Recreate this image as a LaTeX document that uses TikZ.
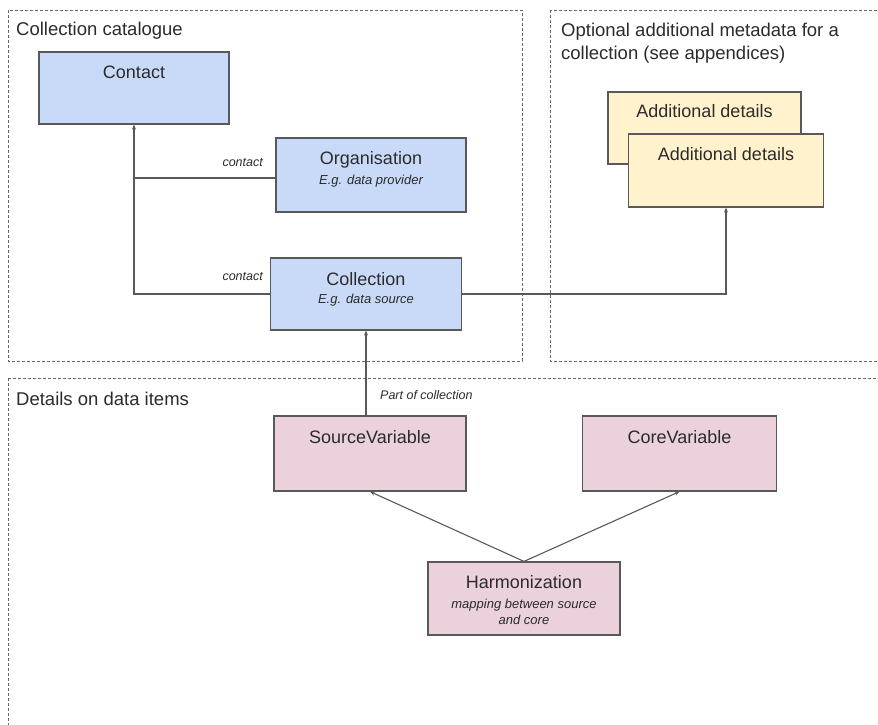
\documentclass[tikz,border=0pt]{standalone}
\usepackage{fontspec}
\setmainfont{Liberation Sans}
\usetikzlibrary{arrows.meta}
\definecolor{bluefill}{HTML}{C9DAF8}
\definecolor{yellowfill}{HTML}{FFF2CC}
\definecolor{pinkfill}{HTML}{EAD1DC}
\definecolor{edge}{HTML}{595959}
\definecolor{txt}{HTML}{2B2B2B}
\definecolor{framec}{HTML}{666666}
\tikzset{
  box/.style={draw=edge, line width=1.2pt, rectangle, inner sep=0pt},
  bluebox/.style={box, fill=bluefill},
  yellowbox/.style={box, fill=yellowfill},
  pinkbox/.style={box, fill=pinkfill},
  ttl/.style={text=txt, font=\fontsize{18}{20}\selectfont, inner sep=0pt},
  sub/.style={text=txt, font=\fontsize{13}{16}\selectfont\itshape, inner sep=0pt, align=center},
  lbl/.style={text=txt, font=\fontsize{12.5}{14}\selectfont\itshape, inner sep=0pt},
  framelbl/.style={text=txt, font=\fontsize{18.5}{23}\selectfont, inner sep=0pt, align=left},
  frame/.style={draw=framec, line width=0.9pt, dash pattern=on 3pt off 2pt},
  conn/.style={draw=edge, line width=1.1pt},
  arr/.style={conn, -{Stealth[length=5pt,width=4pt]}}
}
\begin{document}
\begin{tikzpicture}[x=1pt,y=-1pt]
\useasboundingbox (0,0) rectangle (878,725);
% frames
\draw[frame] (8,10) rectangle (522,361);
\draw[frame] (550,10) rectangle (900,361);
\draw[frame] (8,378) rectangle (900,760);
\node[framelbl, anchor=west] (f1) at (16,31) {Collection catalogue};
\node[framelbl, anchor=west] (f2) at (561,43.5) {Optional additional metadata for a\\collection (see appendices)};
\node[framelbl, anchor=west] (f3) at (16,399) {Details on data items};
% boxes
\node[bluebox, minimum width=190pt, minimum height=72pt] (contact) at (134,88) {};
\node[ttl] (contact-t) at ([yshift=-21pt]contact.north) {Contact};
\node[bluebox, minimum width=190pt, minimum height=74pt] (org) at (371,175) {};
\node[ttl] (org-t) at ([yshift=-22pt]org.north) {Organisation};
\node[sub] (org-s) at ([yshift=-44pt]org.north) {E.g. data provider};
\node[bluebox, minimum width=191pt, minimum height=72pt] (coll) at (366,294) {};
\node[ttl] (coll-t) at ([yshift=-22pt]coll.north) {Collection};
\node[sub] (coll-s) at ([yshift=-42.5pt]coll.north) {E.g. data source};
\node[yellowbox, minimum width=193pt, minimum height=72pt] (addb) at (704.5,128) {};
\node[ttl] (addb-t) at ([yshift=-20pt]addb.north) {Additional details};
\node[yellowbox, minimum width=195pt, minimum height=73pt] (addf) at (726,170.5) {};
\node[ttl] (addf-t) at ([yshift=-21pt]addf.north) {Additional details};
\node[pinkbox, minimum width=192pt, minimum height=75pt] (src) at (370,453.5) {};
\node[ttl] (src-t) at ([yshift=-22pt]src.north) {SourceVariable};
\node[pinkbox, minimum width=194pt, minimum height=75pt] (core) at (679.5,453.5) {};
\node[ttl] (core-t) at ([yshift=-22pt]core.north) {CoreVariable};
\node[pinkbox, minimum width=192pt, minimum height=73pt] (harm) at (524,598.5) {};
\node[ttl] (harm-t) at ([yshift=-21pt]harm.north) {Harmonization};
\node[sub] (harm-s) at ([yshift=-50pt]harm.north) {mapping between source\\and core};
% connectors
\draw[arr] (coll.west) -- (coll.west -| contact.south) -- (contact.south);
\draw[conn] ([yshift=-3pt]org.west) -- ([yshift=-3pt]org.west -| contact.south);
\node[lbl, anchor=east] (lc1) at (263,163) {contact};
\node[lbl, anchor=east] (lc2) at (263,277) {contact};
\draw[arr] (coll.east) -| (addf.south);
\draw[arr] (coll.south |- src.north) -- (coll.south);
\node[lbl, anchor=west] (lpc) at (380,395) {Part of collection};
\draw[arr] (harm.north) -- (src.south);
\draw[arr] (harm.north) -- (core.south);
\end{tikzpicture}
\end{document}
